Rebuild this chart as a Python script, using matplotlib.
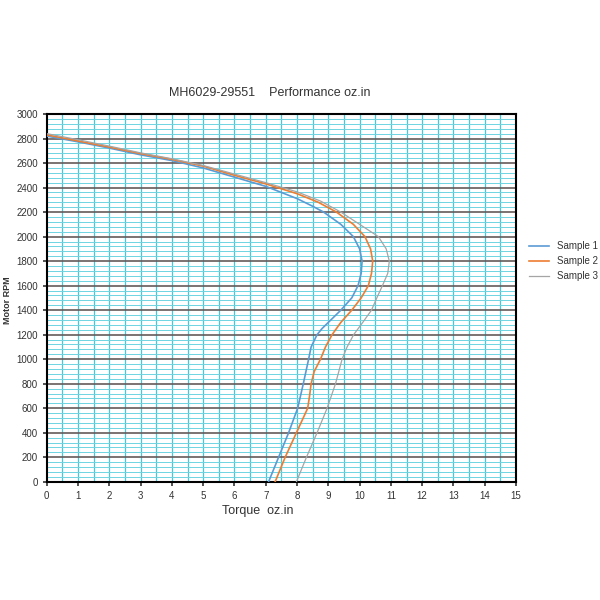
import matplotlib.pyplot as plt
import numpy as np
from matplotlib.ticker import MultipleLocator

plt.rcParams['font.family'] = ['Liberation Sans', 'DejaVu Sans']

# (rpm, torque)
rpm1 = [2820, 2773, 2722, 2667, 2620, 2560, 2485, 2410, 2310, 2250, 2200, 2100, 2000, 1900, 1800,
        1700, 1600, 1500, 1400, 1300, 1250, 1200, 1100, 1000, 800, 600, 400, 200, 0]
tq1 = [0, 1, 2, 3, 4, 5, 6, 7, 8, 8.48, 8.85, 9.4, 9.8, 10.0, 10.08,
       10.05, 9.95, 9.75, 9.4, 9.0, 8.8, 8.64, 8.45, 8.37, 8.2, 8.02, 7.73, 7.41, 7.09]

rpm2 = [2830, 2780, 2730, 2677, 2630, 2575, 2500, 2430, 2350, 2280, 2200, 2100, 2000, 1900, 1800,
        1700, 1600, 1500, 1400, 1300, 1200, 1100, 1000, 900, 800, 700, 600, 400, 200, 0]
tq2 = [0, 1, 2, 3, 4, 5, 6, 7, 8, 8.68, 9.26, 9.8, 10.17, 10.35, 10.42,
       10.38, 10.28, 10.05, 9.75, 9.4, 9.12, 8.91, 8.75, 8.55, 8.45, 8.4, 8.34, 7.98, 7.62, 7.3]

rpm3 = [2840, 2790, 2738, 2683, 2635, 2580, 2510, 2440, 2365, 2290, 2200, 2100, 2000, 1900, 1800,
        1700, 1600, 1500, 1400, 1300, 1200, 1100, 1000, 800, 600, 400, 200, 0]
tq3 = [0, 1, 2, 3, 4, 5, 6, 7, 8, 8.75, 9.4, 10.0, 10.6, 10.85, 10.95,
       10.9, 10.73, 10.55, 10.38, 10.1, 9.81, 9.6, 9.44, 9.23, 8.96, 8.64, 8.3, 7.98]

labels = ['Sample 1', 'Sample 2', 'Sample 3']
colors = ['#5b9bd5', '#ed7d31', '#a5a5a5']

fig = plt.figure(figsize=(6, 6), dpi=100)
ax = fig.add_axes([0.078, 0.197, 0.782, 0.613])

ax.set_xlim(0, 15)
ax.set_ylim(0, 3000)
ax.xaxis.set_major_locator(MultipleLocator(1))
ax.yaxis.set_major_locator(MultipleLocator(200))

# grid
for x in np.arange(0.5, 15, 0.5):
    ax.axvline(x, color='#45c8d8', lw=0.9, zorder=1)
for y in np.arange(40, 3000, 40):
    if y % 200 != 0:
        ax.axhline(y, color='#6fd4e2', lw=0.7, zorder=1)
for y in np.arange(200, 3000, 200):
    ax.axhline(y, color='#655a5a', lw=1.2, zorder=2)

ax.plot(tq1, rpm1, color=colors[0], lw=1.2, label=labels[0], zorder=4)
ax.plot(tq2, rpm2, color=colors[1], lw=1.2, label=labels[1], zorder=4)
ax.plot(tq3, rpm3, color=colors[2], lw=0.9, label=labels[2], zorder=4)

for s in ax.spines.values():
    s.set_linewidth(1.5)
ax.tick_params(labelsize=7, length=3, width=1.2, colors='#333333')

fig.text(0.45, 0.84, 'MH6029-29551    Performance oz.in', ha='center', fontsize=9, color='#333333')
fig.text(0.43, 0.143, 'Torque  oz.in', ha='center', fontsize=9, color='#333333')
fig.text(0.012, 0.5, 'Motor RPM', rotation=90, va='center', ha='center', fontsize=6.5,
         fontweight='bold', color='#333333')

ax.legend(loc='center left', bbox_to_anchor=(1.01, 0.6), frameon=False, fontsize=7,
          handlelength=2, labelcolor='#333333')

plt.savefig('out.png')
